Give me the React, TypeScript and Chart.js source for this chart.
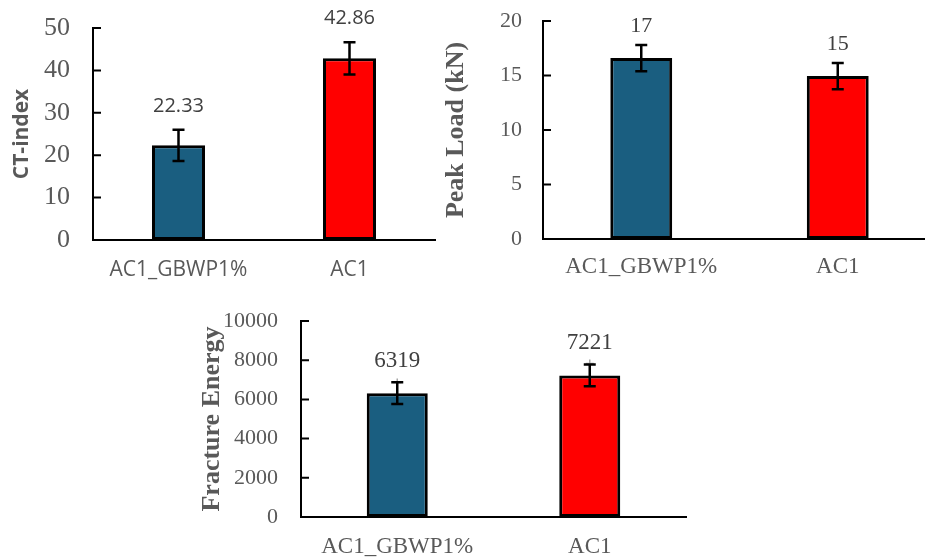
import React, { useEffect, useRef } from "react";
import { Chart, registerables } from "chart.js";
Chart.register(...registerables);

const categories = ["AC1_GBWP1%", "AC1"];
const barColors = ["#1a5e80", "#ff0000"];

const ctIndexValues = [22.33, 42.86];
const ctIndexErrors = [3.7, 3.8];
const ctIndexLabels = ["22.33", "42.86"];
const ctIndexTicks = { min: 0, max: 50, step: 10 };

const peakLoadValues = [16.6, 14.95];
const peakLoadErrors = [1.2, 1.2];
const peakLoadLabels = ["17", "15"];
const peakLoadTicks = { min: 0, max: 20, step: 5 };

const fractureValues = [6319, 7221];
const fractureErrors = [560, 555];
const fractureSecondaryErrors = [750, 820];
const fractureLabels = ["6319", "7221"];
const fractureTicks = { min: 0, max: 10000, step: 2000 };

type PanelProps = {
  left: number; top: number; w: number; h: number;
  area: { left: number; right: number; top: number; bottom: number };
  values: number[]; errors: number[]; secondary?: number[]; labels: string[];
  ticks: { min: number; max: number; step: number };
  title: string; titleFont: any; titlePad: number;
  yFont: any; yPad: number; xFont: any; xPad: number;
  labelFont: string; labelOffset: number; barPct: number;
};

function Panel(p: PanelProps) {
  const ref = useRef<HTMLCanvasElement | null>(null);
  useEffect(() => {
    const { w, h, area } = p;
    const errPlugin = {
      id: "errbars",
      beforeDatasetsDraw(chart: any) {
        if (!p.secondary) return;
        const ctx = chart.ctx;
        const ys = chart.scales.y;
        const meta = chart.getDatasetMeta(0);
        ctx.save();
        ctx.strokeStyle = "#a6a6a6";
        ctx.lineWidth = 1.5;
        meta.data.forEach((el: any, i: number) => {
          const yt = ys.getPixelForValue(p.values[i] + p.secondary![i]);
          const yb = ys.getPixelForValue(p.values[i]);
          ctx.beginPath();
          ctx.moveTo(el.x, yb);
          ctx.lineTo(el.x, yt);
          ctx.moveTo(el.x - 4, yt + 4);
          ctx.lineTo(el.x + 4, yt + 4);
          ctx.stroke();
        });
        ctx.restore();
      },
      afterDatasetsDraw(chart: any) {
        const ctx = chart.ctx;
        const ys = chart.scales.y;
        const meta = chart.getDatasetMeta(0);
        ctx.save();
        ctx.strokeStyle = "#000";
        ctx.lineWidth = 2.5;
        meta.data.forEach((el: any, i: number) => {
          const yt = ys.getPixelForValue(p.values[i] + p.errors[i]);
          const yb = ys.getPixelForValue(p.values[i] - p.errors[i]);
          ctx.beginPath();
          ctx.moveTo(el.x, yt);
          ctx.lineTo(el.x, yb);
          ctx.moveTo(el.x - 6, yt);
          ctx.lineTo(el.x + 6, yt);
          ctx.moveTo(el.x - 6, yb);
          ctx.lineTo(el.x + 6, yb);
          ctx.stroke();
          ctx.fillStyle = "#404040";
          ctx.font = p.labelFont;
          ctx.textAlign = "center";
          ctx.textBaseline = "middle";
          ctx.fillText(p.labels[i], el.x, yt - p.labelOffset);
        });
        // inside tick marks on the value axis
        ctx.lineWidth = 2;
        const ax = chart.chartArea.left;
        ctx.beginPath();
        for (let v = p.ticks.min; v <= p.ticks.max; v += p.ticks.step) {
          const y = ys.getPixelForValue(v);
          ctx.moveTo(ax, y);
          ctx.lineTo(ax + 8, y);
        }
        ctx.stroke();
        ctx.restore();
      },
    };
    const zeroPad = (s: any) => {
      s.paddingTop = 0;
      s.paddingBottom = 0;
      s.paddingLeft = 0;
      s.paddingRight = 0;
    };
    const chart = new Chart(ref.current as HTMLCanvasElement, {
      type: "bar",
      data: {
        labels: categories,
        datasets: [
          {
            data: p.values,
            backgroundColor: barColors,
            borderColor: "#000",
            borderWidth: 3,
            borderSkipped: false,
            barPercentage: p.barPct,
            categoryPercentage: 1,
          } as any,
        ],
      },
      options: {
        responsive: false,
        animation: false,
        layout: {
          autoPadding: false,
          padding: { top: area.top, right: w - area.right, left: 0, bottom: 0 },
        },
        plugins: { legend: { display: false }, tooltip: { enabled: false } },
        scales: {
          x: {
            grid: { display: false, drawTicks: false },
            border: { display: true, color: "#000", width: 2 },
            ticks: { padding: p.xPad, color: "#595959", font: p.xFont, maxRotation: 0 },
            afterFit(s: any) { s.height = h - area.bottom; zeroPad(s); },
          },
          y: {
            min: p.ticks.min,
            max: p.ticks.max,
            ticks: {
              stepSize: p.ticks.step,
              padding: p.yPad,
              color: "#595959",
              font: p.yFont,
              callback: (v: any) => String(v),
            },
            grid: { display: false, drawTicks: false },
            border: { display: true, color: "#000", width: 2 },
            title: {
              display: true,
              text: p.title,
              color: "#595959",
              font: p.titleFont,
              padding: { top: p.titlePad, bottom: 0 },
            },
            afterFit(s: any) { s.width = area.left; zeroPad(s); },
          },
        },
      } as any,
      plugins: [errPlugin],
    });
    return () => chart.destroy();
  }, []);
  return (
    <canvas
      ref={ref}
      width={p.w}
      height={p.h}
      style={{ position: "absolute", left: p.left, top: p.top, width: p.w, height: p.h }}
    />
  );
}

export default function App() {
  const serif = "'Liberation Serif', 'Times New Roman', serif";
  const sans = "'Open Sans', 'Noto Sans', sans-serif";
  return (
    <div style={{ position: "fixed", left: 0, top: 0, width: 925, height: 558, overflow: "hidden", background: "#fff" }}>
      <Panel
        left={0} top={0} w={440} h={290}
        area={{ left: 93, right: 435, top: 28, bottom: 240 }}
        values={ctIndexValues} errors={ctIndexErrors} labels={ctIndexLabels} ticks={ctIndexTicks}
        title="CT-index" titleFont={{ family: sans, weight: "bold", size: 21 }} titlePad={9}
        yFont={{ family: serif, size: 26 }} yPad={23}
        xFont={{ family: sans, size: 21 }} xPad={17}
        labelFont={`20px ${sans}`} labelOffset={23.5} barPct={0.31}
      />
      <Panel
        left={440} top={0} w={500} h={290}
        area={{ left: 103, right: 496, top: 21, bottom: 239 }}
        values={peakLoadValues} errors={peakLoadErrors} labels={peakLoadLabels} ticks={peakLoadTicks}
        title="Peak Load (kN)" titleFont={{ family: serif, weight: "bold", size: 26 }} titlePad={1}
        yFont={{ family: serif, size: 22 }} yPad={21}
        xFont={{ family: serif, size: 23 }} xPad={14}
        labelFont={`22px ${serif}`} labelOffset={18.5} barPct={0.315}
      />
      <Panel
        left={190} top={300} w={520} h={258}
        area={{ left: 111, right: 496, top: 21, bottom: 217 }}
        values={fractureValues} errors={fractureErrors} secondary={fractureSecondaryErrors}
        labels={fractureLabels} ticks={fractureTicks}
        title="Fracture Energy" titleFont={{ family: serif, weight: "bold", size: 26 }} titlePad={7}
        yFont={{ family: serif, size: 22 }} yPad={23}
        xFont={{ family: serif, size: 23 }} xPad={16}
        labelFont={`23px ${serif}`} labelOffset={21.5} barPct={0.317}
      />
    </div>
  );
}
